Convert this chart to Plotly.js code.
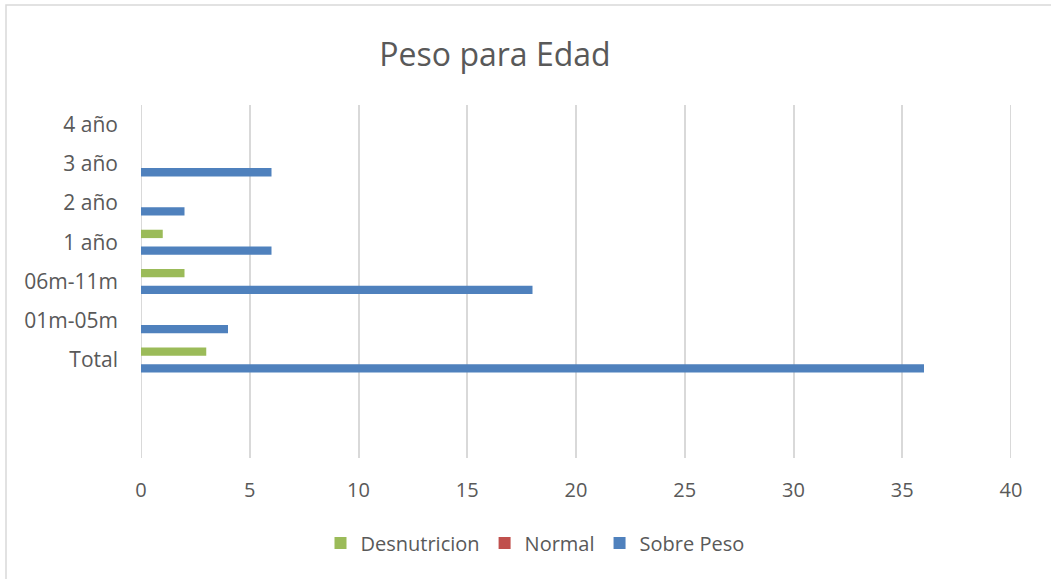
<!DOCTYPE html>
<html>
<head>
<meta charset="utf-8">
<script src="https://cdn.plot.ly/plotly-3.0.1.min.js"></script>
<style>html,body{margin:0;padding:0;background:#fff;}#chart{width:1051px;height:579px;}</style>
</head>
<body>
<div id="chart"></div>
<script>
const categories = ["Total", "01m-05m", "06m-11m", "1 año", "2 año", "3 año", "4 año"];
const desnutricion = [3, 0, 2, 1, 0, 0, 0];
const normal = [0, 0, 0, 0, 0, 0, 0];
const sobrePeso = [36, 4, 18, 6, 2, 6, 0];
const xTicks = [0, 5, 10, 15, 20, 25, 30, 35, 40];

const W = 1051, H = 579;
const L = 141, R = 40, T = 105, B = 121;
const pw = W - L - R, ph = H - T - B;
function px(x){ return (x - L) / pw; }
function py(y){ return (H - B - y) / ph; }

const traces = [
  {type:'bar', orientation:'h', name:'Sobre Peso', y:categories, x:sobrePeso, marker:{color:'#4F81BD'}},
  {type:'bar', orientation:'h', name:'Normal', y:categories, x:normal, marker:{color:'#C0504D'}},
  {type:'bar', orientation:'h', name:'Desnutricion', y:categories, x:desnutricion, marker:{color:'#9BBB59'}}
];

const edgeLines = [xTicks[0], xTicks[xTicks.length-1]].map(v => ({
  type:'line', xref:'x', yref:'paper', x0:v, x1:v, y0:0, y1:1,
  line:{color:'#D9D9D9', width:2}, layer:'below'
}));

const font = "Open Sans, Noto Sans, sans-serif";
const layout = {
  width: W, height: H,
  margin: {l:L, r:R, t:T, b:B, pad:0},
  paper_bgcolor:'#fff', plot_bgcolor:'#fff',
  font: {family: font, color:'#595959', size:20},
  title: {text:'Peso para Edad', x: 495/W, xanchor:'center', y: 1 - 55/H, yanchor:'middle',
          font:{family:font, size:32, color:'#595959'}},
  barmode:'group', bargap:0.36, bargroupgap:0,
  showlegend:true,
  legend:{orientation:'h', traceorder:'reversed', xref:'paper', x:px(535), xanchor:'center',
          y: py(543), yanchor:'middle', font:{size:20, color:'#595959'}, itemwidth:30},
  xaxis:{range:[0,40], tickmode:'array', tickvals:xTicks, showgrid:true, gridcolor:'#D9D9D9', gridwidth:2,
         zeroline:false, showline:false, ticks:'', ticklabelstandoff:18,
         tickfont:{size:20, color:'#595959'}, fixedrange:true},
  yaxis:{type:'category', categoryorder:'array', categoryarray:categories, range:[-2.5, 6.5],
         showgrid:false, zeroline:false, showline:false, ticks:'', ticklabelstandoff:22,
         tickfont:{size:21, color:'#595959'}, fixedrange:true},
  shapes:[{type:'rect', xref:'paper', yref:'paper', x0:px(6), x1:px(1060), y0:py(5), y1:py(600),
           line:{color:'#D9D9D9', width:1.5}, fillcolor:'rgba(0,0,0,0)', layer:'below'}].concat(edgeLines)
};
Plotly.newPlot('chart', traces, layout, {displayModeBar:false, staticPlot:true});
</script>
</body>
</html>
